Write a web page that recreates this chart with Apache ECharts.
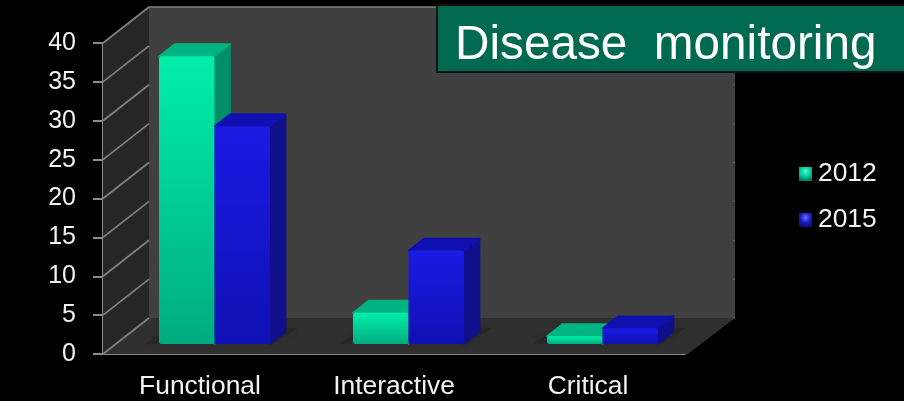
<!DOCTYPE html>
<html>
<head>
<meta charset="utf-8">
<style>html,body{margin:0;padding:0;background:#000}#chart{width:904px;height:401px}</style>
<script src="https://cdn.jsdelivr.net/npm/echarts@6/dist/echarts.min.js"></script>
</head>
<body>
<div id="chart"></div>
<script>
// Survey values per health-literacy level
const categories = ['Functional', 'Interactive', 'Critical'];
const values2012 = [37, 4, 1];
const values2015 = [28, 12, 2];
const yTicks = [0, 5, 10, 15, 20, 25, 30, 35, 40];
const titleText = 'Disease  monitoring';

const FONT = '"Liberation Sans", Arial, sans-serif';
const DEPTH = { x: 46, y: -36 };      // oblique vector from the front plane to the back wall
const BAR_NEAR = 0.28;                // bar front face, as a fraction of the depth
const BAR_THICK = 0.34;               // bar thickness, as a fraction of the depth
const BAR_BAND = 0.286;               // bar width, as a fraction of a category band
const BAR_NUDGE = 1.6;                // small sideways shift of each bar pair
const AXIS_GREY = '#8c8c8c';
const LABEL_WHITE = '#f2f2f2';

function vGrad(top, bottom) {
  return { type: 'linear', x: 0, y: 0, x2: 0, y2: 1,
    colorStops: [{ offset: 0, color: top }, { offset: 1, color: bottom }] };
}

function keyGrad(centre, mid, edge) {
  return { type: 'radial', x: 0.5, y: 0.32, r: 0.75,
    colorStops: [{ offset: 0, color: centre }, { offset: 0.55, color: mid }, { offset: 1, color: edge }] };
}

// Walls and floor of the box, placed from the axis scales
function renderBox(params, api) {
  const bl = api.coord([0, 0]);
  const tl = api.coord([0, 40]);
  bl[0] -= api.size([1, 0])[0] / 2;
  tl[0] = bl[0];
  const w = api.size([1, 0])[0] * categories.length;
  const br = [bl[0] + w, bl[1]];
  const tx = bl[0] + DEPTH.x, ty = tl[1] + DEPTH.y, fy = bl[1] + DEPTH.y;
  const rx = br[0] + DEPTH.x + 4;
  const poly = (points, fill) => ({ type: 'polygon', shape: { points }, style: { fill } });
  return { type: 'group', children: [
    poly([[tx, ty], [rx, ty], [rx, fy], [tx, fy]], '#404040'),
    poly([[tl[0], tl[1]], [tx, ty], [tx, fy], [bl[0], bl[1]]], '#262626'),
    poly([[bl[0], bl[1]], [tx, fy], [rx, fy], [br[0] + 3, br[1]]], '#2f2f2f'),
    { type: 'line', shape: { x1: tx, y1: ty, x2: rx, y2: ty }, style: { stroke: '#808080', lineWidth: 1.5 } }
  ] };
}

// One grid line per tick on the side wall, with a stub on the far edge of the back wall
function renderGrid(params, api) {
  const c = api.coord([0, api.value(0)]);
  const band = api.size([1, 0])[0];
  const x0 = c[0] - band / 2;
  const rx = x0 + band * categories.length + DEPTH.x + 4;
  const y1 = c[1] + DEPTH.y;
  return { type: 'group', children: [
    { type: 'line', shape: { x1: x0, y1: c[1], x2: x0 + DEPTH.x, y2: y1 },
      style: { stroke: '#808080', lineWidth: 1.8 } },
    { type: 'line', shape: { x1: rx - 2, y1, x2: rx, y2: y1 },
      style: { stroke: '#666666', lineWidth: 1 } }
  ] };
}

// Soft shadow on the floor beneath each pair of bars
function renderShadow(params, api) {
  const c = api.coord([api.value(0), 0]);
  const band = api.size([1, 0])[0];
  const w = band * BAR_BAND;
  const left = c[0] + DEPTH.x * BAR_NEAR - w + BAR_NUDGE;
  const right = left + 2 * w;
  const by = c[1] + DEPTH.y * BAR_NEAR;
  const topY = c[1] + DEPTH.y * 0.72;
  return { type: 'polygon',
    shape: { points: [[left - 14, by], [right + 4, by], [right + 28, topY], [left + 10, topY]] },
    style: { fill: 'rgba(0,0,0,0.14)', shadowBlur: 8, shadowColor: 'rgba(0,0,0,0.22)' } };
}

// Oblique box for one value: side, top and front faces
function makeBarRenderer(slot, faces) {
  return function (params, api) {
    const cat = api.value(0);
    const top = api.coord([cat, api.value(1)]);
    const base = api.coord([cat, 0]);
    const band = api.size([1, 0])[0];
    const w = band * BAR_BAND;
    const x0 = base[0] + DEPTH.x * BAR_NEAR + (slot - 1) * w + BAR_NUDGE;
    const x1 = x0 + w;
    const yBase = base[1] + DEPTH.y * BAR_NEAR;
    const yTop = top[1] + DEPTH.y * BAR_NEAR;
    const dx = DEPTH.x * BAR_THICK, dy = DEPTH.y * BAR_THICK;
    const face = (fill) => ({ fill, stroke: fill, lineWidth: 1.5, lineJoin: 'round' });
    return { type: 'group', children: [
      { type: 'polygon',
        shape: { points: [[x1, yTop], [x1 + dx, yTop + dy], [x1 + dx, yBase + dy], [x1, yBase]] },
        style: face(faces.side) },
      { type: 'polygon',
        shape: { points: [[x0, yTop], [x0 + dx, yTop + dy], [x1 + dx, yTop + dy], [x1, yTop]] },
        style: face(faces.top) },
      { type: 'rect', shape: { x: x0, y: yTop, width: w, height: yBase - yTop, r: 2 },
        style: { fill: vGrad(faces.front[0], faces.front[1]) } }
    ] };
  };
}

const faces2012 = { front: ['#00f0a8', '#00ac80'], top: '#00b482', side: '#008f68' };
const faces2015 = { front: ['#1a1ae4', '#1010b4'], top: '#1010b0', side: '#10108c' };

const chart = echarts.init(document.getElementById('chart'), null, { renderer: 'canvas' });
chart.setOption({
  backgroundColor: '#000000',
  animation: false,
  textStyle: { fontFamily: FONT },
  title: {
    text: titleText, left: 450, top: 17, z: 12,
    textStyle: { color: '#ffffff', fontSize: 47.7, fontWeight: 'normal', fontFamily: FONT }
  },
  legend: {
    data: [
      { name: '2012', itemStyle: { color: keyGrad('#40ffd8', '#00c896', '#007a5a') } },
      { name: '2015', itemStyle: { color: keyGrad('#6a6af8', '#1818c8', '#0c0c78') } }
    ],
    orient: 'vertical', left: 794, top: 156, icon: 'rect',
    itemWidth: 13, itemHeight: 14, itemGap: 20, selectedMode: false,
    textStyle: { color: LABEL_WHITE, fontSize: 26.4, fontFamily: FONT, padding: [0, 0, 0, 1] }
  },
  graphic: [{
    type: 'rect', z: 10,
    shape: { x: 437, y: 5, width: 470, height: 67 },
    style: { fill: '#006a50', stroke: '#101010', lineWidth: 2 }
  }],
  grid: { left: 103, top: 43, width: 582, height: 311, containLabel: false },
  xAxis: {
    type: 'category', data: categories,
    axisLine: { lineStyle: { color: AXIS_GREY, width: 2 } },
    axisTick: { length: 8, lineStyle: { color: AXIS_GREY, width: 2 } },
    axisLabel: { color: LABEL_WHITE, fontSize: 26.4, fontFamily: FONT, margin: 20 }
  },
  yAxis: {
    type: 'value', min: 0, max: 40, interval: 5,
    axisLine: { show: true, lineStyle: { color: AXIS_GREY, width: 2 } },
    axisTick: { show: true, length: 10, lineStyle: { color: AXIS_GREY, width: 2 } },
    axisLabel: { color: LABEL_WHITE, fontSize: 25, fontFamily: FONT, margin: 27, padding: [2, 0, 0, 0] },
    splitLine: { show: false }
  },
  series: [
    { type: 'custom', name: 'box', renderItem: renderBox, data: [0], z: 1, silent: true,
      coordinateSystem: 'cartesian2d', encode: { y: 0 } },
    { type: 'custom', name: 'grid', renderItem: renderGrid, data: yTicks.map(v => [v]), z: 1,
      silent: true, coordinateSystem: 'cartesian2d', encode: { y: 0 } },
    { type: 'custom', name: 'shadow', renderItem: renderShadow, data: categories.map((c, i) => [i]), z: 1,
      silent: true, coordinateSystem: 'cartesian2d', encode: { x: 0 } },
    { type: 'custom', name: '2012', renderItem: makeBarRenderer(0, faces2012),
      data: values2012.map((v, i) => [i, v]), encode: { x: 0, y: 1 }, z: 3 },
    { type: 'custom', name: '2015', renderItem: makeBarRenderer(1, faces2015),
      data: values2015.map((v, i) => [i, v]), encode: { x: 0, y: 1 }, z: 4 }
  ]
});
</script>
</body>
</html>
